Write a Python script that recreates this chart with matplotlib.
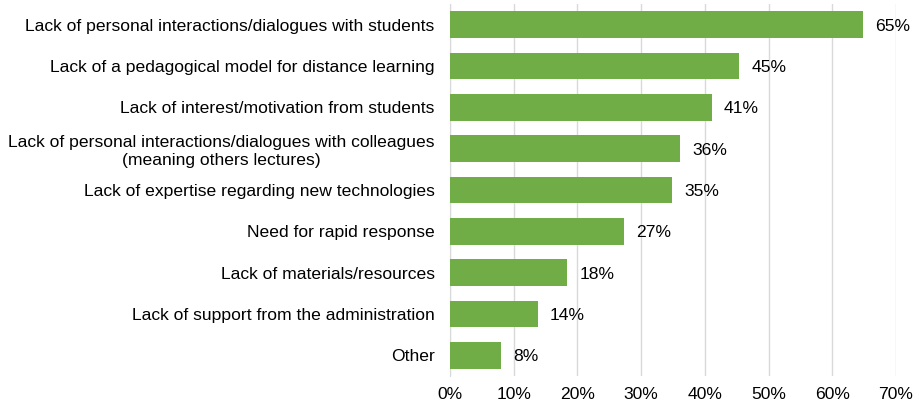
import matplotlib
matplotlib.use("Agg")
import matplotlib.pyplot as plt
from matplotlib.ticker import FuncFormatter

categories = [
    "Lack of personal interactions/dialogues with students",
    "Lack of a pedagogical model for distance learning",
    "Lack of interest/motivation from students",
    "Lack of personal interactions/dialogues with colleagues\n(meaning others lectures)",
    "Lack of expertise regarding new technologies",
    "Need for rapid response",
    "Lack of materials/resources",
    "Lack of support from the administration",
    "Other",
]
values = [64.8, 45.4, 41.1, 36.1, 34.9, 27.3, 18.4, 13.8, 8.0]
value_labels = ["65%", "45%", "41%", "36%", "35%", "27%", "18%", "14%", "8%"]
xticks = [0, 10, 20, 30, 40, 50, 60, 70]

plt.rcParams['font.family'] = ['Liberation Sans', 'DejaVu Sans']
FS = 12.6
fig = plt.figure(figsize=(9.17, 4.08), dpi=100)
ax = fig.add_axes([450/917, 1-376/408, 446/917, 372/408])

y = list(range(len(categories)))
bars = ax.barh(y, values, height=0.65, color="#70AD47", zorder=3)
ax.set_ylim(len(categories)-0.5, -0.5)
ax.set_xlim(0, 70)
ax.set_yticks(y)
ax.set_yticklabels(categories, fontsize=FS)
ax.tick_params(axis="y", length=0, pad=11)
for lab in ax.get_yticklabels():
    lab.set_multialignment("center")
ax.set_xticks(xticks)
ax.xaxis.set_major_formatter(FuncFormatter(lambda v, p: f"{int(v)}%"))
ax.tick_params(axis="x", length=0, labelsize=FS, pad=8)
ax.grid(axis="x", color="#D9D9D9", linewidth=1, zorder=0)
for s in ["top", "right", "bottom"]:
    ax.spines[s].set_visible(False)
ax.spines["left"].set_color("#D9D9D9")
for b, v, t in zip(bars, values, value_labels):
    ax.text(v + 1.9, b.get_y() + b.get_height()/2 + 0.04, t, va="center", ha="left", fontsize=FS, zorder=4)

fig.savefig("out.png", dpi=100)
